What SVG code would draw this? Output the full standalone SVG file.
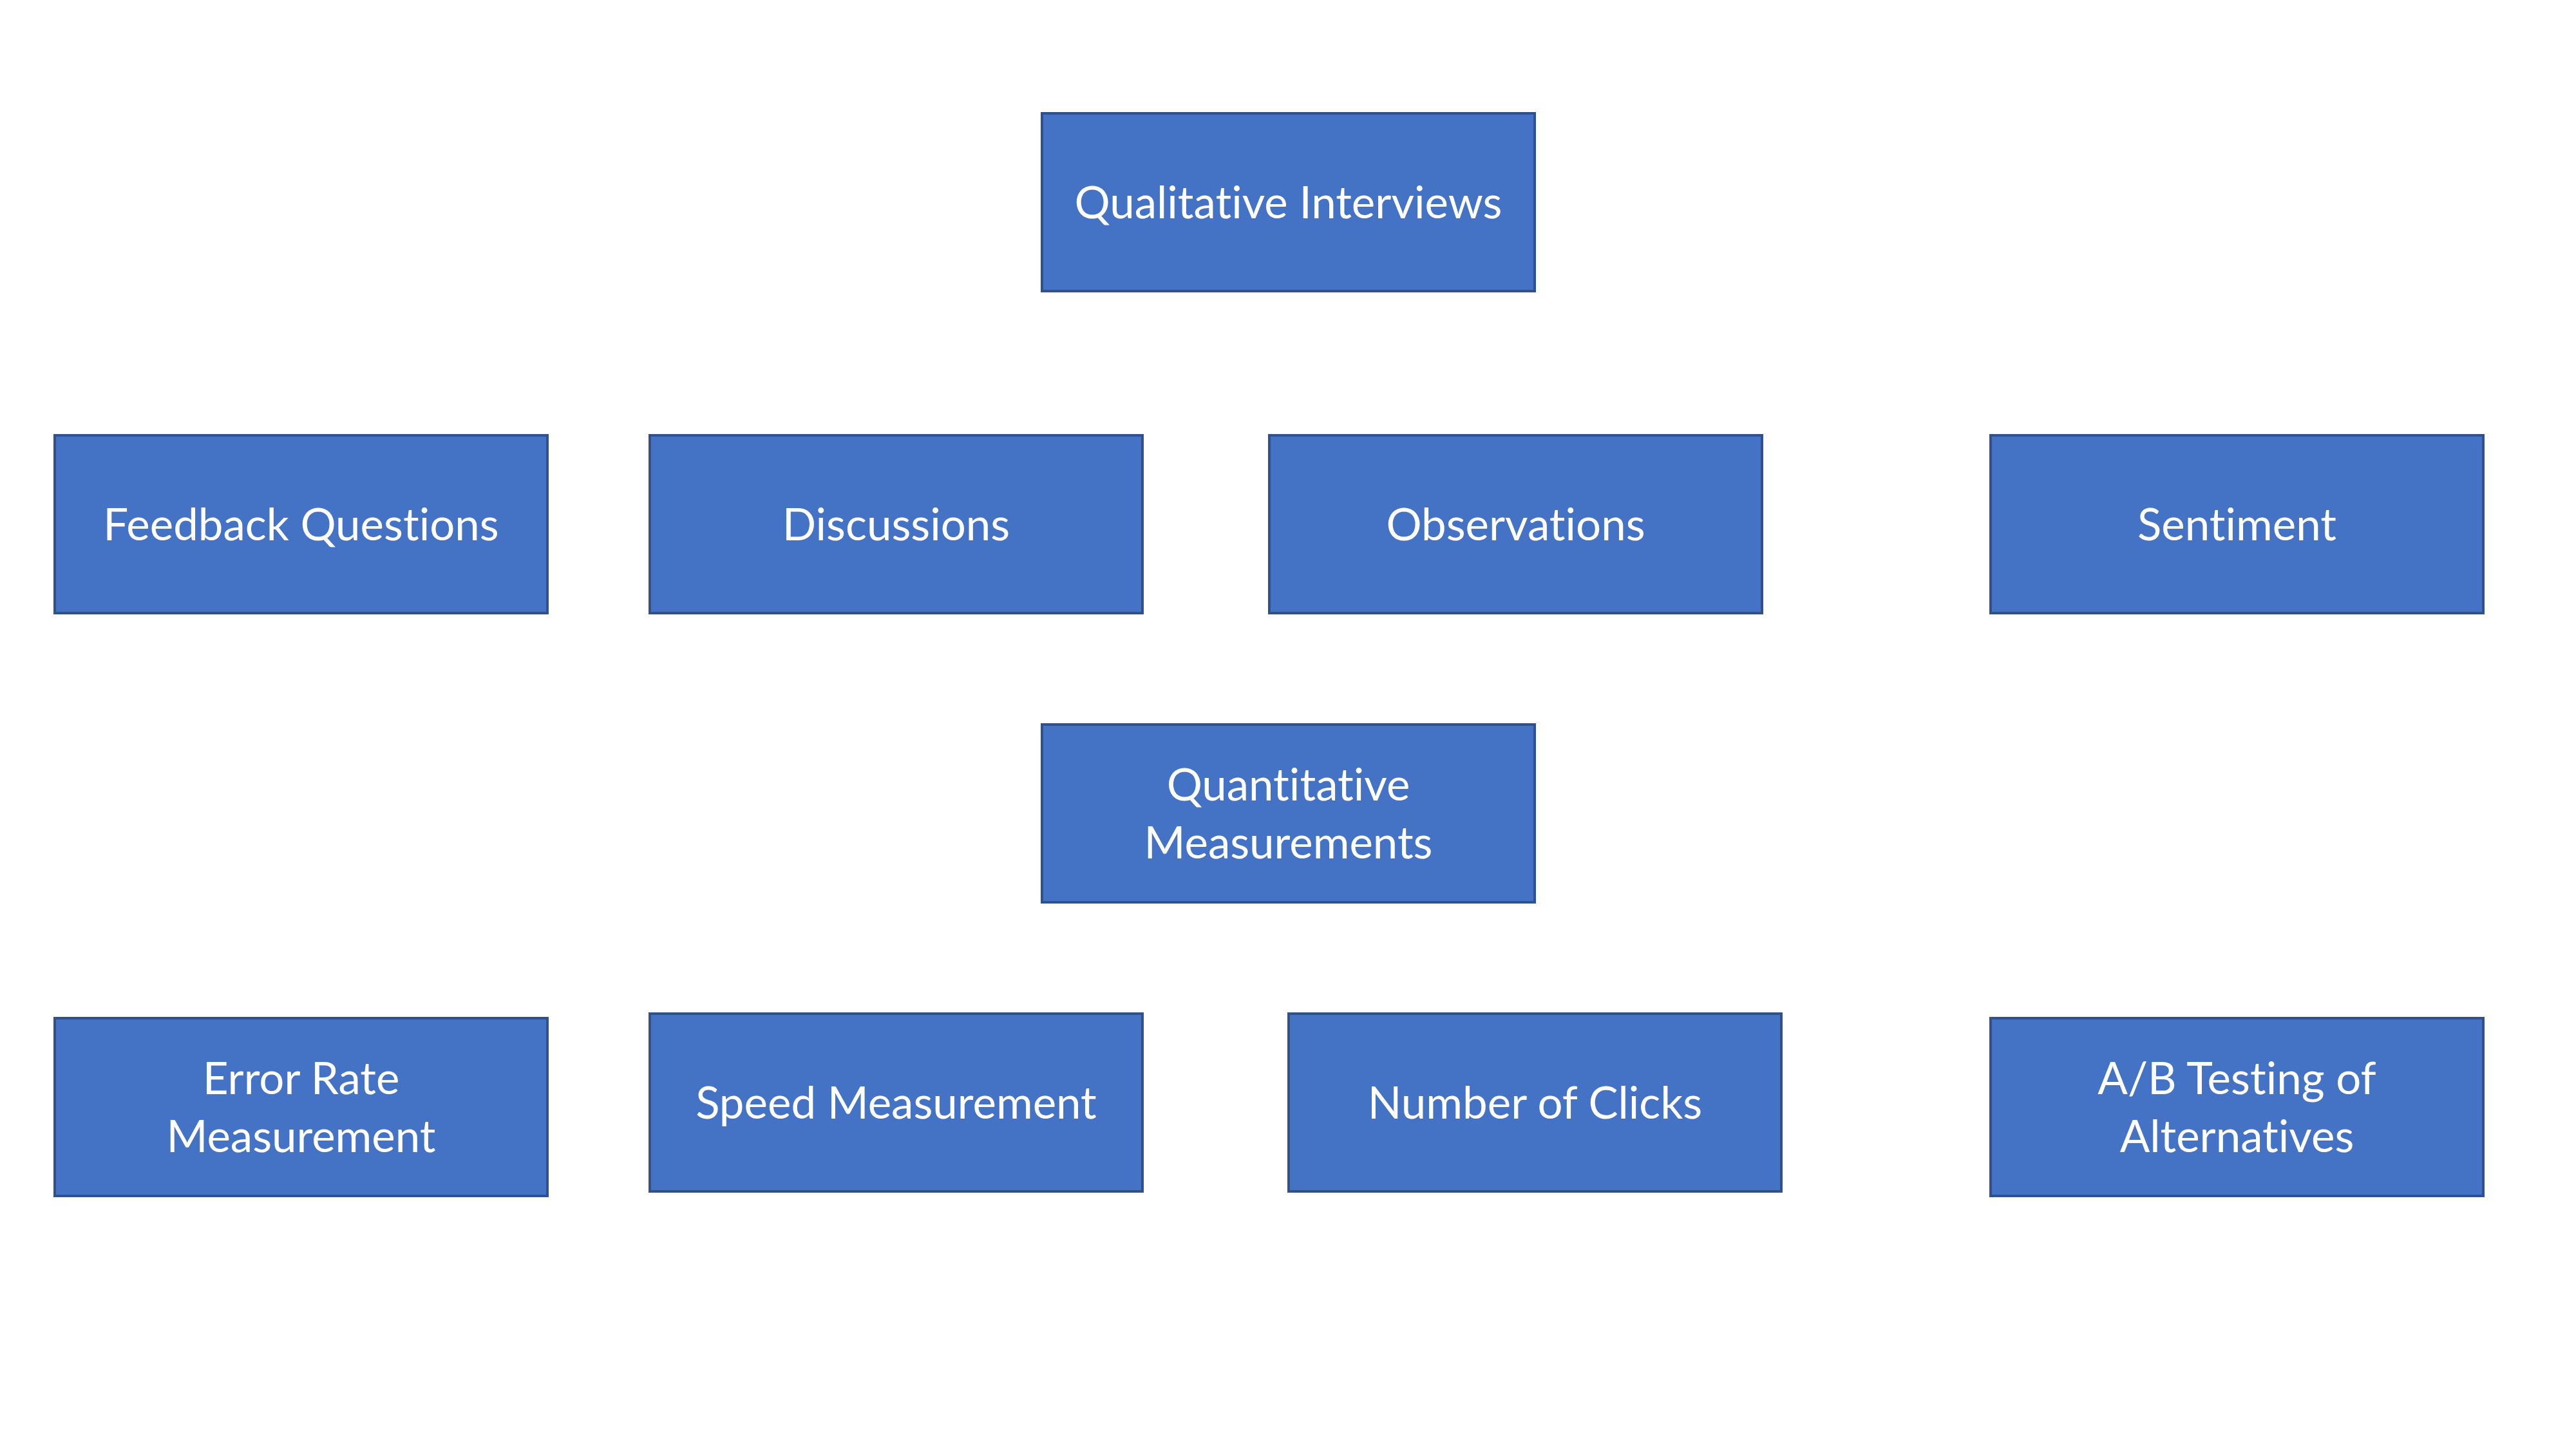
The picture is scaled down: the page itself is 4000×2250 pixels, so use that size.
<svg xmlns="http://www.w3.org/2000/svg" width="4000" height="2250" viewBox="0 0 4000 2250">
<style>
.box{fill:#4472C4;stroke:#2F528F;stroke-width:4}
.lbl{fill:#FFFFFF;font-family:Lato,"Liberation Sans",sans-serif;font-size:69px;text-anchor:middle;font-variant-ligatures:none;font-feature-settings:"liga" 0}
</style>
<rect width="4000" height="2250" fill="#FFFFFF"/>
<g id="connectors"/>
<g id="qualitative-interviews"><rect class="box" x="1618" y="176" width="765" height="276"/><text class="lbl" x="2000.5" y="339">Qualitative Interviews</text></g>
<g id="feedback-questions"><rect class="box" x="85" y="676" width="765" height="276"/><text class="lbl" x="467.5" y="839">Feedback Questions</text></g>
<g id="discussions"><rect class="box" x="1009" y="676" width="765" height="276"/><text class="lbl" x="1391.5" y="839">Discussions</text></g>
<g id="observations"><rect class="box" x="1971" y="676" width="765" height="276"/><text class="lbl" x="2353.5" y="839">Observations</text></g>
<g id="sentiment"><rect class="box" x="3091" y="676" width="765" height="276"/><text class="lbl" x="3473.5" y="839">Sentiment</text></g>
<g id="quantitative-measurements"><rect class="box" x="1618" y="1125" width="765" height="276"/><text class="lbl" x="2000.5" y="1243">Quantitative</text><text class="lbl" x="2000.5" y="1333">Measurements</text></g>
<g id="error-rate-measurement"><rect class="box" x="85" y="1581" width="765" height="276"/><text class="lbl" x="467.5" y="1699">Error Rate</text><text class="lbl" x="467.5" y="1789">Measurement</text></g>
<g id="speed-measurement"><rect class="box" x="1009" y="1574" width="765" height="276"/><text class="lbl" x="1391.5" y="1737">Speed Measurement</text></g>
<g id="number-of-clicks"><rect class="box" x="2001" y="1574" width="765" height="276"/><text class="lbl" x="2383.5" y="1737">Number of Clicks</text></g>
<g id="ab-testing"><rect class="box" x="3091" y="1581" width="765" height="276"/><text class="lbl" x="3473.5" y="1699">A/B Testing of</text><text class="lbl" x="3473.5" y="1789">Alternatives</text></g>
</svg>
